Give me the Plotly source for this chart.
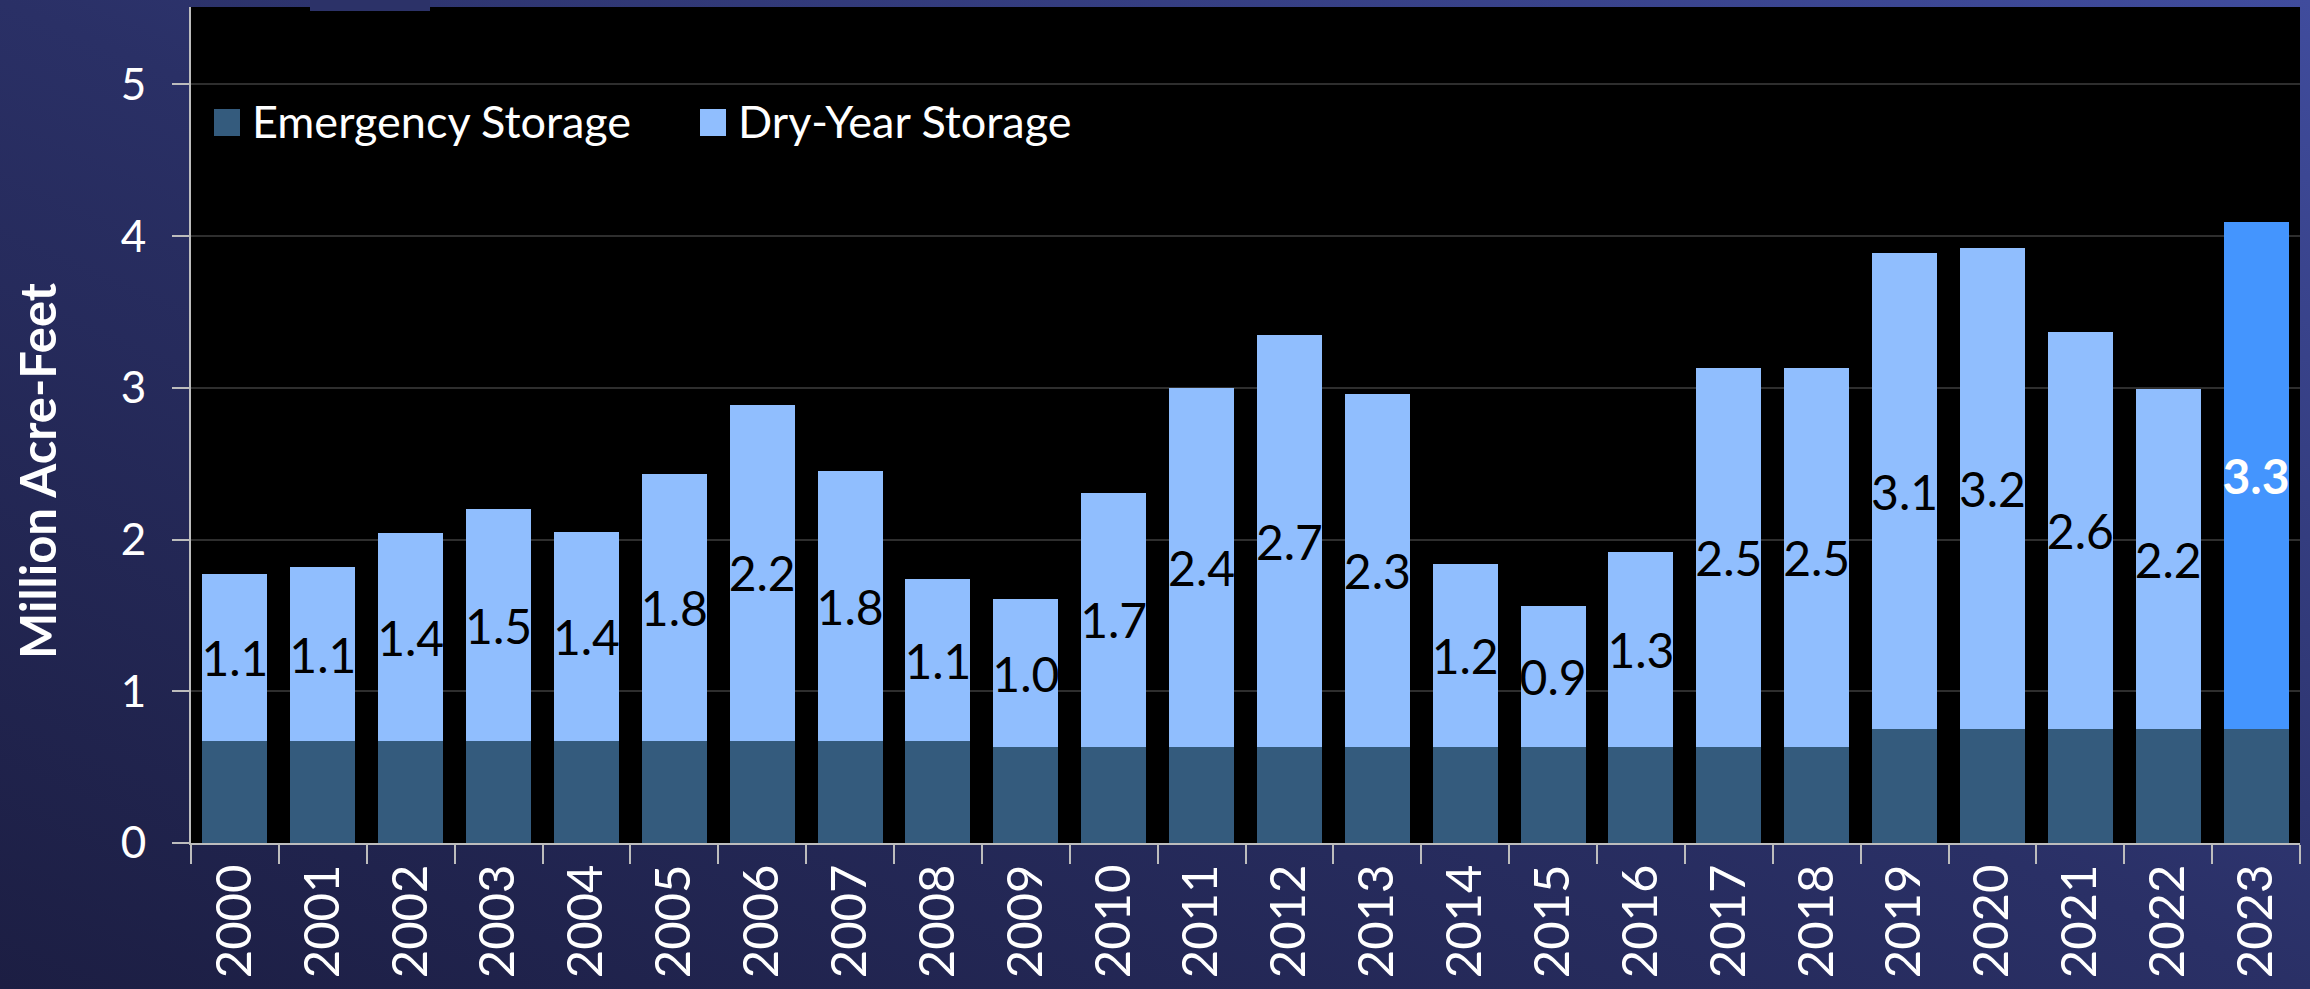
import base64
import plotly.graph_objects as go

# ---- data ----
years = [str(y) for y in range(2000, 2024)]
emergency = [0.67] * 9 + [0.63] * 10 + [0.75] * 5
dry_year = [1.10, 1.15, 1.37, 1.53, 1.38, 1.76, 2.22, 1.78, 1.07, 0.98,
             1.68, 2.37, 2.72, 2.33, 1.21, 0.93, 1.29, 2.50, 2.50, 3.14,
             3.17, 2.62, 2.24, 3.34]
series_names = ["Emergency Storage", "Dry-Year Storage"]
y_title = "Million Acre-Feet"
y_ticks = [0, 1, 2, 3, 4, 5]

# ---- style ----
W, H = 2310, 989
ML, MR, MT, MB = 191, 10, 7, 146
PW, PH = W - ML - MR, H - MT - MB
FONT = "Lato, 'Open Sans', sans-serif"
C_EMERG = "#345B7D"
C_DRY = "#90BEFE"
C_HIGHLIGHT = "#4495FE"

dry_colors = [C_DRY] * (len(years) - 1) + [C_HIGHLIGHT]
text_colors = ["#000000"] * (len(years) - 1) + ["#FFFFFF"]
labels = [f"{v:.1f}" for v in dry_year]
labels[-1] = f"<b>{labels[-1]}</b>"

fig = go.Figure()
fig.add_trace(go.Bar(x=years, y=emergency, name=series_names[0],
                     marker=dict(color=C_EMERG, line=dict(width=0)),
                     showlegend=False, hoverinfo="skip"))
fig.add_trace(go.Bar(x=years, y=dry_year, name=series_names[1],
                     marker=dict(color=dry_colors, line=dict(width=0)),
                     text=labels, textposition="inside",
                     insidetextanchor="middle", constraintext="none",
                     textangle=0,
                     textfont=dict(family=FONT, size=48, color=text_colors),
                     showlegend=False, hoverinfo="skip"))

# background gradient as an svg image
svg = (f'<svg xmlns="http://www.w3.org/2000/svg" width="{W}" height="{H}" '
       f'preserveAspectRatio="none" viewBox="0 0 {W} {H}">'
       '<defs><linearGradient id="g" x1="0" y1="1" x2="1" y2="0">'
       '<stop offset="0" stop-color="#1C1E43"/>'
       '<stop offset="0.5" stop-color="#2A3066"/>'
       '<stop offset="1" stop-color="#404C9D"/>'
       '</linearGradient></defs>'
       f'<rect x="0" y="0" width="{W}" height="{H}" fill="url(#g)"/></svg>')
src = "data:image/svg+xml;base64," + base64.b64encode(svg.encode()).decode()

shapes = [
    dict(type="rect", xref="paper", yref="paper", x0=0, x1=1, y0=0, y1=1,
         fillcolor="#000000", line=dict(width=0), layer="below"),
    dict(type="rect", xref="paper", yref="paper",
         x0=(310 - ML) / PW, x1=(430 - ML) / PW,
         y0=1 - 4 / PH, y1=1 + MT / PH,
         fillcolor="#2C3268", line=dict(width=0), layer="above"),
]
annotations = []
# custom legend
leg_items = [(series_names[0], C_EMERG, 214), (series_names[1], C_DRY, 700)]
for name, col, px in leg_items:
    shapes.append(dict(type="rect", xref="paper", yref="paper",
                       x0=(px - ML) / PW, x1=(px + 26 - ML) / PW,
                       y0=(MT + PH - 136) / PH, y1=(MT + PH - 109) / PH,
                       fillcolor=col, line=dict(width=0), layer="above"))
    annotations.append(dict(xref="paper", yref="paper",
                            x=(px + 36 - ML) / PW, y=(MT + PH - 121) / PH,
                            xanchor="left", yanchor="middle", showarrow=False,
                            text=name,
                            font=dict(family=FONT, size=45, color="#FFFFFF")))
# y axis title
annotations.append(dict(xref="paper", yref="paper",
                        x=(37 - ML) / PW, y=(MT + PH - 471) / PH,
                        xanchor="center", yanchor="middle", showarrow=False,
                        textangle=-90, text=f"<b>{y_title}</b>",
                        font=dict(family=FONT, size=49, color="#FFFFFF")))

fig.update_layout(
    width=W, height=H,
    margin=dict(l=ML, r=MR, t=MT, b=MB, pad=0),
    barmode="stack", bargap=0.26,
    paper_bgcolor="#272C5E", plot_bgcolor="#000000",
    images=[dict(source=src, xref="paper", yref="paper",
                 x=-ML / PW, y=1 + MT / PH, sizex=W / PW, sizey=H / PH,
                 xanchor="left", yanchor="top", sizing="stretch",
                 layer="below")],
    shapes=shapes, annotations=annotations,
    showlegend=False,
    xaxis=dict(type="category", tickson="boundaries", ticks="outside",
               ticklen=19, tickwidth=2, tickcolor="#BDBDBD",
               showline=True, linecolor="#BDBDBD", linewidth=2,
               showgrid=False, tickangle=-90,
               tickfont=dict(family=FONT, size=49, color="#FFFFFF")),
    yaxis=dict(range=[0, 5.51], tickvals=y_ticks, ticks="outside",
               ticklen=17, tickwidth=2, tickcolor="#BDBDBD",
               showline=True, linecolor="#BDBDBD", linewidth=2,
               showgrid=True, gridcolor="#2E2E2E", gridwidth=2,
               zeroline=False, ticklabelstandoff=17,
               tickfont=dict(family=FONT, size=44, color="#FFFFFF")),
)

fig.write_html("out.html",
               config={"displayModeBar": False},
               post_script="document.body.style.margin='0';"
                           "document.body.style.overflow='hidden';")
